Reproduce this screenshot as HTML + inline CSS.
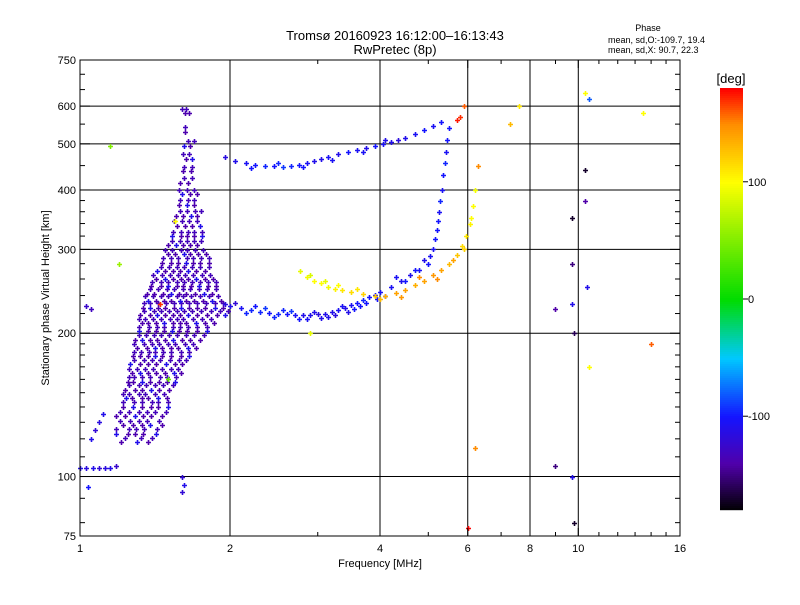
<!DOCTYPE html>
<html><head><meta charset="utf-8"><style>
body{margin:0;background:#fff;width:800px;height:600px;overflow:hidden}
svg{font-family:"Liberation Sans",sans-serif}
</style></head><body>
<svg id="chart" width="800" height="600" xmlns="http://www.w3.org/2000/svg">
<rect width="800" height="600" fill="#fff"/>
<text x="395" y="40" font-size="13" text-anchor="middle">Tromsø 20160923 16:12:00–16:13:43</text>
<text x="395" y="54" font-size="13" text-anchor="middle">RwPretec (8p)</text>
<text x="648" y="31" font-size="9" text-anchor="middle">Phase</text>
<text x="608" y="43" font-size="9">mean, sd,O:-109.7, 19.4</text>
<text x="608" y="53" font-size="9">mean, sd,X:  90.7, 22.3</text>
<g id="grid"></g>
<g id="marks"></g>
<g id="axes"></g>
<text x="380" y="567" font-size="11" text-anchor="middle">Frequency [MHz]</text>
<text x="49" y="298" font-size="11" text-anchor="middle" transform="rotate(-90 49 298)">Stationary phase Virtual Height [km]</text>
<g id="cbar"></g>
<text x="731" y="83" font-size="13" text-anchor="middle">[deg]</text>
</svg>
<script>
// ---- data ----
const xTickValues=[1,2,4,6,8,10,16];
const xTickLabels=["1","2","4","6","8","10","16"];
const yTickValues=[75,100,200,300,400,500,600,750];
const yTickLabels=["75","100","200","300","400","500","600","750"];
const cbarTicks=[100,0,-100];
const cbarLabels=["100","0","-100"];
// Es / spread cluster rows: [height, [freqs...]]
const esRows=[
[118,[1.21,1.3,1.37]],
[123,[1.17,1.24,1.28,1.33,1.41]],
[128,[1.2,1.26,1.31,1.36,1.44]],
[134,[1.18,1.23,1.29,1.34,1.39,1.46]],
[140,[1.21,1.27,1.32,1.38,1.42,1.49]],
[146,[1.22,1.25,1.31,1.35,1.41,1.47]],
[152,[1.23,1.29,1.33,1.39,1.44,1.51]],
[158,[1.24,1.27,1.32,1.37,1.43,1.48,1.54]],
[165,[1.25,1.3,1.35,1.4,1.46,1.52,1.57]],
[172,[1.26,1.32,1.37,1.42,1.49,1.55,1.6]],
[179,[1.27,1.31,1.36,1.4,1.45,1.51,1.58,1.64]],
[186,[1.28,1.34,1.39,1.44,1.5,1.55,1.62,1.68]],
[194,[1.29,1.33,1.38,1.43,1.48,1.54,1.6,1.66,1.74]],
[202,[1.3,1.36,1.41,1.46,1.52,1.57,1.63,1.7,1.78]],
[210,[1.31,1.35,1.4,1.45,1.51,1.56,1.61,1.68,1.75,1.83]],
[218,[1.32,1.38,1.43,1.48,1.54,1.59,1.65,1.72,1.8,1.88,1.95]],
[226,[1.33,1.37,1.42,1.47,1.53,1.58,1.64,1.7,1.77,1.85,1.92]],
[234,[1.35,1.4,1.45,1.5,1.56,1.61,1.67,1.74,1.81,1.89]],
[242,[1.36,1.41,1.47,1.52,1.58,1.63,1.7,1.77,1.84]],
[251,[1.38,1.44,1.49,1.55,1.6,1.66,1.72,1.79,1.86]],
[260,[1.4,1.46,1.51,1.57,1.62,1.68,1.75,1.82]],
[270,[1.43,1.48,1.54,1.59,1.65,1.71,1.78]],
[281,[1.45,1.51,1.56,1.62,1.67,1.73,1.8]],
[293,[1.48,1.53,1.59,1.64,1.7,1.76]],
[306,[1.5,1.56,1.61,1.66,1.72]],
[320,[1.52,1.58,1.63,1.68,1.74]],
[336,[1.54,1.6,1.65,1.71]],
[353,[1.56,1.61,1.67,1.72]],
[372,[1.57,1.63,1.68]],
[392,[1.58,1.64,1.69]],
[414,[1.59,1.65]],
[438,[1.6,1.66]],
[465,[1.61,1.65]],
[495,[1.62,1.66]],
[530,[1.61]],
[580,[1.6,1.63]]];
// O trace [freq,height,phase]
const oTrace=[[1.95,230,-115],[2.0,228,-110],[2.1,226,-105],[2.2,224,-95],[2.3,222,-95],[2.4,221,-100],[2.5,220,-95],[2.6,219,-100],[2.7,218,-105],[2.8,218,-110],[2.9,218,-110],[3.0,219,-115],[3.1,220,-110],[3.2,222,-110],[3.3,224,-105],[3.4,226,-110],[3.5,229,-105],[3.6,232,-100],[3.7,235,-95],[3.8,238,-100],[3.9,241,-100],[4.0,244,-105],[4.2,250,-105],[4.4,257,-110],[4.6,265,-110],[4.8,272,-105],[5.0,280,-100],[5.1,300,-105],[5.2,330,-100],[5.28,380,-95],[5.35,430,-100],[5.42,480,-105],[5.5,540,-100],
[2.05,232,-120],[2.25,228,-100],[2.45,216,-95],[2.65,223,-90],[2.85,214,-105],[3.05,215,-110],[3.25,218,-115],[3.45,222,-110],[3.65,228,-100],[4.1,240,-95],[4.5,258,-100],[4.9,285,-110],[5.15,315,-100],[5.25,360,-105],[5.4,455,-95],
[2.15,221,-95],[2.35,226,-90],[2.55,224,-95],[2.75,214,-100],[2.95,222,-110],[3.15,216,-110],[3.35,228,-105],[3.55,225,-100],[3.75,231,-100],[3.95,236,-100],[4.3,262,-105],[4.7,272,-100],[5.05,290,-105],[5.22,345,-100],[5.32,400,-105],[5.46,510,-100]];
// X trace
const xTrace=[[2.76,270,90],[2.85,262,95],[2.95,258,100],[3.05,255,100],[3.15,250,95],[3.25,248,105],[3.35,246,110],[3.5,244,115],[3.7,242,120],[3.9,240,125],[4.1,240,135],[4.3,243,140],[4.5,247,140],[4.7,252,135],[4.9,258,140],[5.1,265,145],[5.3,272,140],[5.5,280,130],[5.7,292,125],[5.85,305,115],[5.95,320,110],[6.05,340,105],[6.15,370,100],[6.2,400,95],
[2.9,265,85],[3.1,258,90],[3.3,252,100],[3.6,248,110],[4.0,236,130],[4.4,238,145],[4.8,262,150],[5.2,260,150],[5.6,285,140],[5.9,300,120],[6.1,350,100]];
// Upper trace
const upperTrace=[[1.95,470,-115],[2.05,460,-110],[2.15,455,-105],[2.25,452,-100],[2.35,450,-95],[2.45,450,-100],[2.55,448,-90],[2.65,450,-95],[2.75,452,-100],[2.85,455,-105],[2.95,460,-110],[3.05,465,-110],[3.15,470,-105],[3.3,475,-110],[3.45,480,-100],[3.6,485,-105],[3.75,490,-110],[3.9,495,-100],[4.05,500,-105],[4.2,505,-110],[4.35,510,-115],[4.5,515,-110],[4.7,525,-105],[4.9,535,-100],[5.1,545,-105],[5.3,555,-100],
[2.2,445,-100],[2.5,455,-95],[2.8,447,-100],[3.2,462,-105],[3.7,480,-105],[4.1,510,-110]];
// Low trace
const lowTrace=[[1.0,104,-110],[1.03,104,-115],[1.06,104,-110],[1.09,104,-120],[1.12,104,-115],[1.15,104,-110],[1.18,105,-125],[1.04,95,-100],[1.05,120,-110],[1.07,125,-120],[1.09,130,-115],[1.11,135,-110],[1.03,228,-125],[1.05,225,-130],[1.6,100,-120],[1.62,96,-110],[1.6,93,-120]];
// Scattered echoes
const scattered=[[9.7,350,-170],[9.7,280,-150],[9.7,230,-110],[9.8,200,-160],[10.3,440,-170],[10.3,380,-140],[10.4,250,-110],[10.3,640,100],[10.5,620,-80],[13.5,580,100],[14,190,160],[9,105,-150],[9.7,100,-110],[9.8,80,-170],[6,78,180],[6.2,115,150],[6.3,450,150],[7.3,550,130],[7.6,600,110],[5.8,570,170],[5.9,600,160],[5.7,560,175],[2.9,200,90],[1.15,495,50],[1.2,280,60],[9,225,-140],[10.5,170,100],[1.55,345,100],[1.45,230,170],[1.5,160,40]];

// ---- scales ----
const X0=80,X1=680,Y0=60,Y1=536;
const xs=f=>X0+(X1-X0)*Math.log2(f)/4;
const ys=h=>Y1-(Y1-Y0)*Math.log10(h/75);
const CB_TOP=88,CB_BOT=510;
const cs=p=>CB_BOT-(CB_BOT-CB_TOP)*(p+180)/360;
const stops=[[-180,[0,0,0]],[-140,[80,0,170]],[-100,[20,20,255]],[-50,[0,200,255]],[0,[0,220,0]],[100,[255,255,0]],[150,[255,140,0]],[180,[255,0,0]]];
function col(p){for(let i=1;i<stops.length;i++){if(p<=stops[i][0]){const a=stops[i-1],b=stops[i],t=(p-a[0])/(b[0]-a[0]);return 'rgb('+a[1].map((v,k)=>Math.round(v+(b[1][k]-v)*t)).join(',')+')';}}return 'rgb(255,0,0)';}
const NS='http://www.w3.org/2000/svg';
function mk(tag,attrs,parent){const e=document.createElementNS(NS,tag);for(const k in attrs)e.setAttribute(k,attrs[k]);parent.appendChild(e);return e;}
const grid=document.getElementById('grid'),marks=document.getElementById('marks'),axes=document.getElementById('axes'),cbar=document.getElementById('cbar');

// grid
[2,4,6,8,10].forEach(f=>{const l=mk('line',{x1:xs(f),x2:xs(f),y1:Y0,y2:Y1,stroke:'#000','stroke-width':1},grid);

});
[100,200,300,400,500,600].forEach(h=>{const l=mk('line',{x1:X0,x2:X1,y1:ys(h),y2:ys(h),stroke:'#000','stroke-width':1},grid);

});

// points
function plus(f,h,p){const x=Math.round(xs(f)),y=Math.round(ys(h)),c=col(p);
const g=mk('path',{d:`M${x-2} ${y+0.5}h5M${x+0.5} ${y-2}v5`,stroke:c,'stroke-width':1.6},marks);

}
esRows.forEach((r,ri)=>r[1].forEach((f,i)=>{const off=(ri%3)*0.008;plus(f*(1+off),r[0],(i+ri)%4==1?-110:-138);plus(f*(1.018-off),r[0]*1.022,-132);}));
oTrace.forEach(d=>plus(d[0],d[1],d[2]));
xTrace.forEach(d=>plus(d[0],d[1],d[2]));
upperTrace.forEach(d=>plus(d[0],d[1],d[2]));
lowTrace.forEach(d=>plus(d[0],d[1],d[2]));
scattered.forEach(d=>plus(d[0],d[1],d[2]));

// frame
const fr=mk('rect',{x:X0,y:Y0,width:X1-X0,height:Y1-Y0,fill:'none',stroke:'#000','stroke-width':1},axes);


xTickValues.forEach((v,i)=>{const t=mk('text',{x:xs(v),y:Y1+16,'font-size':11,'text-anchor':'middle'},axes);t.textContent=xTickLabels[i];


mk('line',{x1:xs(v),x2:xs(v),y1:Y1,y2:Y1-8,stroke:'#000'},axes);mk('line',{x1:xs(v),x2:xs(v),y1:Y0,y2:Y0+8,stroke:'#000'},axes);});
[3,5,7,9,11,12,13,14,15].forEach(v=>{mk('line',{x1:xs(v),x2:xs(v),y1:Y1,y2:Y1-4,stroke:'#000'},axes);mk('line',{x1:xs(v),x2:xs(v),y1:Y0,y2:Y0+4,stroke:'#000'},axes);});
yTickValues.forEach((v,i)=>{const t=mk('text',{x:X0-4,y:ys(v)+4,'font-size':11,'text-anchor':'end'},axes);t.textContent=yTickLabels[i];


mk('line',{x1:X0,x2:X0+10,y1:ys(v),y2:ys(v),stroke:'#000'},axes);mk('line',{x1:X1,x2:X1-10,y1:ys(v),y2:ys(v),stroke:'#000'},axes);});
const minor=[80,90,110,120,130,140,150,160,170,180,190,220,240,260,280,320,340,360,380,450,550,650,700];
minor.forEach(v=>{mk('line',{x1:X0,x2:X0+5,y1:ys(v),y2:ys(v),stroke:'#000'},axes);mk('line',{x1:X1,x2:X1-5,y1:ys(v),y2:ys(v),stroke:'#000'},axes);});

// colorbar
for(let y=CB_TOP;y<CB_BOT;y+=2){const p=180-360*(y-CB_TOP)/(CB_BOT-CB_TOP);mk('rect',{x:720,y:y,width:23,height:2.2,fill:col(p)},cbar);}
cbarTicks.forEach((v,i)=>{mk('line',{x1:743,x2:748,y1:cs(v),y2:cs(v),stroke:'#000'},cbar);
const t=mk('text',{x:748,y:cs(v)+4,'font-size':11},cbar);t.textContent=cbarLabels[i];

});
</script>
</body></html>
